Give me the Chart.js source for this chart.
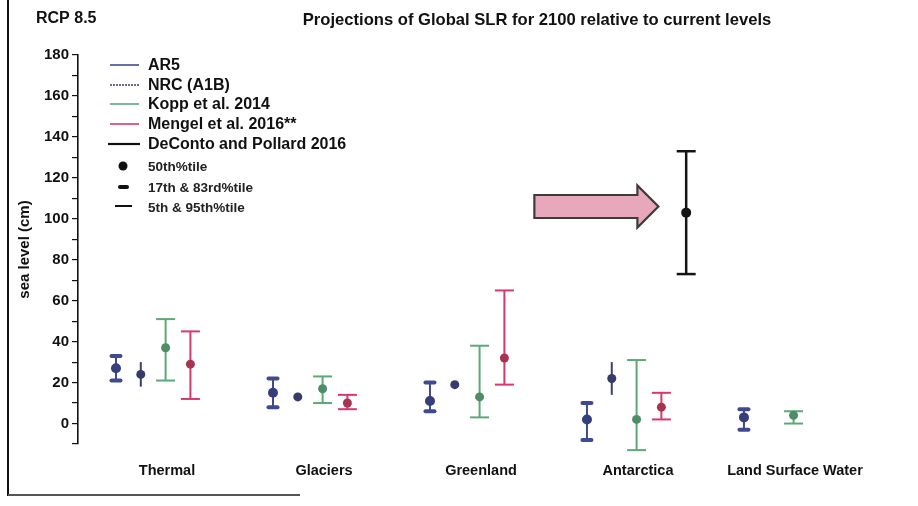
<!DOCTYPE html>
<html><head><meta charset="utf-8">
<script src="https://cdn.jsdelivr.net/npm/chart.js@4.4.1/dist/chart.umd.min.js"></script>
<style>html,body{margin:0;padding:0;background:#fff;}canvas{display:block}</style>
</head><body>
<canvas id="c" width="918" height="506"></canvas>
<script>
// ---- data ----
const categories = ['Thermal', 'Glaciers', 'Greenland', 'Antarctica', 'Land Surface Water'];
const seriesNames = ['AR5', 'NRC (A1B)', 'Kopp et al. 2014', 'Mengel et al. 2016**', 'DeConto and Pollard 2016'];
const percentileLabels = ['50th%tile', '17th & 83rd%tile', '5th & 95th%tile'];
const yTickValues = [-10, 0, 10, 20, 30, 40, 50, 60, 70, 80, 90, 100, 110, 120, 130, 140, 150, 160, 170, 180];

const ar5Median = [27, 15, 11, 2, 3];
const ar5Low    = [21, 8, 6, -8, -3];
const ar5High   = [33, 22, 20, 10, 7];

const nrcMedian = [24, 13, 19, 22, null];
const nrcLow    = [18, null, null, 14, null];
const nrcHigh   = [30, null, null, 30, null];

const koppMedian = [37, 17, 13, 2, 4];
const koppLow    = [21, 10, 3, -13, 0];
const koppHigh   = [51, 23, 38, 31, 6];

const mengelMedian = [29, 10, 32, 8, null];
const mengelLow    = [12, 7, 19, 2, null];
const mengelHigh   = [45, 14, 65, 15, null];

const decontoMedian = [null, null, null, 103, null];
const decontoLow    = [null, null, null, 73, null];
const decontoHigh   = [null, null, null, 133, null];

// ---- styling ----
const series = [
  {name: seriesNames[0], med: ar5Median, lo: ar5Low, hi: ar5High, offset: -0.325, line: '#3f4a8f', dot: '#353f7c', cap: 'thick', r: 5, w: 2},
  {name: seriesNames[1], med: nrcMedian, lo: nrcLow, hi: nrcHigh, offset: -0.167, line: '#3a3f6e', dot: '#363b68', cap: 'none', r: 4.5, w: 2},
  {name: seriesNames[2], med: koppMedian, lo: koppLow, hi: koppHigh, offset: -0.009, line: '#5ca878', dot: '#4f8d69', cap: 'thin', r: 4.5, w: 2},
  {name: seriesNames[3], med: mengelMedian, lo: mengelLow, hi: mengelHigh, offset: 0.149, line: '#d8386d', dot: '#a83452', cap: 'thin', r: 4.5, w: 2},
  {name: seriesNames[4], med: decontoMedian, lo: decontoLow, hi: decontoHigh, offset: 0.307, line: '#141414', dot: '#141414', cap: 'thin', r: 5, w: 2.5}
];
const FONT = "'Liberation Sans', Arial, sans-serif";

const datasets = series.map(s => ({
  label: s.name,
  data: s.med.map((m, i) => m == null ? null : {x: i + s.offset, y: m}).filter(Boolean),
  backgroundColor: s.dot, borderColor: s.dot, pointRadius: s.r, pointHoverRadius: s.r,
  pointBorderWidth: 0, clip: false, showLine: false
}));

const errorBars = {
  id: 'errorBars',
  beforeDatasetsDraw(chart) {
    const {ctx} = chart, xs = chart.scales.x, ys = chart.scales.y;
    ctx.save();
    series.forEach(s => {
      s.med.forEach((m, i) => {
        const lo = s.lo[i], hi = s.hi[i];
        if (lo == null || hi == null) return;
        const px = xs.getPixelForValue(i + s.offset);
        const pl = ys.getPixelForValue(lo), ph = ys.getPixelForValue(hi);
        ctx.strokeStyle = s.line; ctx.lineWidth = s.w; ctx.lineCap = 'butt';
        ctx.beginPath(); ctx.moveTo(px, pl); ctx.lineTo(px, ph); ctx.stroke();
        if (s.cap === 'thick') {
          ctx.lineWidth = 4; ctx.lineCap = 'round';
          [pl, ph].forEach(py => { ctx.beginPath(); ctx.moveTo(px - 4.5, py); ctx.lineTo(px + 4.5, py); ctx.stroke(); });
        } else if (s.cap === 'thin') {
          ctx.lineWidth = s.w; ctx.lineCap = 'butt';
          [pl, ph].forEach(py => { ctx.beginPath(); ctx.moveTo(px - 9.5, py); ctx.lineTo(px + 9.5, py); ctx.stroke(); });
        }
      });
    });
    ctx.restore();
  }
};

const arrowPlugin = {
  id: 'arrow',
  afterDatasetsDraw(chart) {
    const {ctx} = chart, xs = chart.scales.x, ys = chart.scales.y;
    const x0 = xs.getPixelForValue(2.34), x1 = xs.getPixelForValue(3.13), yc = ys.getPixelForValue(106);
    const bh = 11.5, hh = 21, hl = 21;
    ctx.save();
    ctx.beginPath();
    ctx.moveTo(x0, yc - bh); ctx.lineTo(x1 - hl, yc - bh); ctx.lineTo(x1 - hl, yc - hh);
    ctx.lineTo(x1, yc); ctx.lineTo(x1 - hl, yc + hh); ctx.lineTo(x1 - hl, yc + bh);
    ctx.lineTo(x0, yc + bh); ctx.closePath();
    ctx.fillStyle = '#e8a8bc'; ctx.fill();
    ctx.strokeStyle = '#3c3c3c'; ctx.lineWidth = 2.2; ctx.lineJoin = 'miter'; ctx.stroke();
    ctx.restore();
  }
};

const decor = {
  id: 'decor',
  afterDraw(chart) {
    const {ctx} = chart;
    ctx.save();
    // frame
    ctx.strokeStyle = '#111'; ctx.lineWidth = 2;
    ctx.beginPath(); ctx.moveTo(8, 0); ctx.lineTo(8, 496); ctx.stroke();
    ctx.strokeStyle = '#555'; ctx.lineWidth = 2;
    ctx.beginPath(); ctx.moveTo(8, 495); ctx.lineTo(300, 495); ctx.stroke();
    // titles
    ctx.fillStyle = '#111'; ctx.textBaseline = 'middle';
    ctx.font = 'bold 16px ' + FONT; ctx.textAlign = 'left';
    ctx.fillText('RCP 8.5', 36, 19);
    ctx.textAlign = 'center';
    ctx.font = 'bold 16.6px ' + FONT;
    ctx.fillText('Projections of Global SLR for 2100 relative to current levels', 537, 20);
    // legend
    const lx0 = 110, lx1 = 139, tx = 148;
    const ly = [65, 85, 104, 124, 144];
    ctx.textAlign = 'left';
    series.forEach((s, k) => {
      ctx.strokeStyle = k === 4 ? '#111' : s.line;
      ctx.lineWidth = k === 4 ? 2.2 : 1.6;
      ctx.setLineDash(k === 1 ? [2, 1] : []);
      ctx.beginPath(); ctx.moveTo(k === 4 ? 108 : lx0, ly[k]); ctx.lineTo(k === 4 ? 140 : lx1, ly[k]); ctx.stroke();
      ctx.setLineDash([]);
      ctx.fillStyle = '#111'; ctx.font = 'bold 16px ' + FONT;
      ctx.fillText(s.name, tx, ly[k] + 1);
    });
    const my = [166, 187, 207];
    ctx.fillStyle = '#111';
    ctx.beginPath(); ctx.arc(123, my[0], 4.5, 0, Math.PI * 2); ctx.fill();
    ctx.strokeStyle = '#111'; ctx.lineWidth = 4; ctx.lineCap = 'round';
    ctx.beginPath(); ctx.moveTo(120, my[1]); ctx.lineTo(127, my[1]); ctx.stroke();
    ctx.lineWidth = 2; ctx.lineCap = 'butt';
    ctx.beginPath(); ctx.moveTo(115, my[2] - 1); ctx.lineTo(132, my[2] - 1); ctx.stroke();
    ctx.font = 'bold 13.5px ' + FONT; ctx.fillStyle = '#222';
    percentileLabels.forEach((t, k) => ctx.fillText(t, tx, my[k] + 1));
    ctx.restore();
  }
};

new Chart(document.getElementById('c'), {
  type: 'scatter',
  data: {datasets},
  plugins: [errorBars, arrowPlugin, decor],
  options: {
    responsive: false, animation: false, devicePixelRatio: 1,
    layout: {padding: {left: 10, right: 18, top: 55, bottom: 22}},
    plugins: {legend: {display: false}, tooltip: {enabled: false}, title: {display: false}},
    scales: {
      x: {
        type: 'linear', min: -0.567, max: 4.669,
        afterBuildTicks: sc => { sc.ticks = categories.map((c, i) => ({value: i})); },
        afterFit: sc => { sc.height = 40; },
        grid: {display: false, drawTicks: false}, border: {display: false},
        ticks: {autoSkip: false, maxRotation: 0, padding: 18, color: '#111',
          font: {family: FONT, size: 14.5, weight: 'bold'},
          callback: v => categories[v] ?? ''}
      },
      y: {
        min: -10, max: 180,
        afterBuildTicks: sc => { sc.ticks = yTickValues.map(v => ({value: v})); },
        afterFit: sc => { sc.width = 68; },
        grid: {display: true, drawOnChartArea: false, drawTicks: true, tickLength: 6, color: '#111', lineWidth: 1.2},
        border: {display: true, color: '#111', width: 1.6},
        title: {display: true, text: 'sea level (cm)', color: '#111', padding: {top: 6, bottom: 0},
          font: {family: FONT, size: 15, weight: 'bold'}},
        ticks: {autoSkip: false, padding: 3, color: '#111',
          font: {family: FONT, size: 15, weight: 'bold'},
          callback: v => (v >= 0 && v % 20 === 0) ? String(v) : ''}
      }
    }
  }
});
</script>
</body></html>
